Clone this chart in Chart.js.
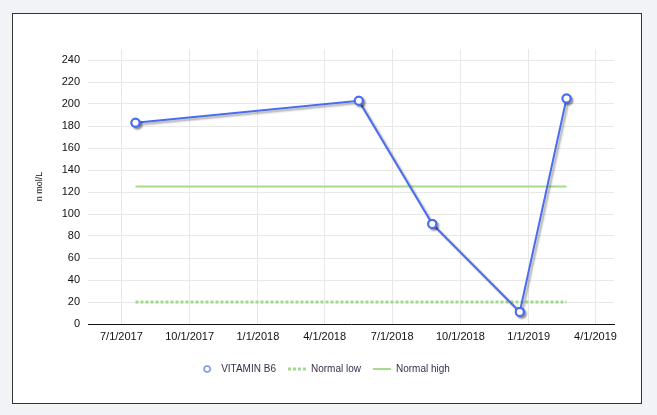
<!DOCTYPE html>
<html><head><meta charset="utf-8">
<script src="https://cdn.jsdelivr.net/npm/chart.js@4.4.1/dist/chart.umd.min.js"></script>
<style>
html,body{margin:0;padding:0;width:657px;height:415px;overflow:hidden;background:#f1f3f6;}
#frame{position:absolute;left:12px;top:13px;width:628px;height:389px;border:1px solid #333;background:#fff;}
#wrap{position:absolute;left:0;top:0;width:657px;height:415px;}
canvas{display:block;}
</style></head><body>
<div id="frame"></div>
<div id="wrap"><canvas id="c" width="657" height="415" style="width:657px;height:415px"></canvas></div>
<script>
// ---- data ----
const sampleDates = ['2017-07-20','2018-05-17','2018-08-24','2018-12-20','2019-02-21'];
const vitaminB6 = [183, 203, 91, 11, 205];
const normalLow = [20, 20, 20, 20, 20];
const normalHigh = [125, 125, 125, 125, 125];
const xTickLabels = ['7/1/2017','10/1/2017','1/1/2018','4/1/2018','7/1/2018','10/1/2018','1/1/2019','4/1/2019'];
const yTickValues = [0,20,40,60,80,100,120,140,160,180,200,220,240];
const seriesNames = ['VITAMIN B6','Normal low','Normal high'];
const yTitle = 'n mol/L';

const DAY = 86400000;
function isoToDay(s){ const p=s.split('-').map(Number); return Date.UTC(p[0],p[1]-1,p[2])/DAY; }
function mdyToDay(s){ const p=s.split('/').map(Number); return Date.UTC(p[2],p[0]-1,p[1])/DAY; }
function dayToMdy(d){ const t=new Date(d*DAY); return (t.getUTCMonth()+1)+'/'+t.getUTCDate()+'/'+t.getUTCFullYear(); }
const xs = sampleDates.map(isoToDay);
const xTickDays = xTickLabels.map(mdyToDay);
const pts = arr => arr.map((v,i)=>({x:xs[i], y:v}));

const blue = '#4a6cf2';
const greenLow = '#a2d98a';
const greenHigh = '#a6dc8e';

// legend marker for the point series
const mk = document.createElement('canvas');
mk.width = 10; mk.height = 10;
(function(){ const g=mk.getContext('2d'); g.beginPath(); g.arc(5,5,3,0,Math.PI*2); g.fillStyle='#fff'; g.fill(); g.lineWidth=1.6; g.strokeStyle='#7d93e6'; g.stroke(); })();

const shadowPlugin = {
  id:'shadow',
  beforeDatasetDraw(chart,args){ if(args.index===0){ const c=chart.ctx; c.save(); c.shadowColor='rgba(0,0,0,0.35)'; c.shadowOffsetX=2; c.shadowOffsetY=2; c.shadowBlur=2; } },
  afterDatasetDraw(chart,args){
    if(args.index===0){
      const c=chart.ctx; c.restore();
      // redraw the markers on top without shadow so their centres stay white
      chart.getDatasetMeta(0).data.forEach(p=>p.draw(c, chart.chartArea));
    }
  }
};

Chart.defaults.font.family = '"Liberation Sans", Arial, sans-serif';

new Chart(document.getElementById('c'), {
  type:'line',
  data:{ datasets:[
    { label:seriesNames[0], data:pts(vitaminB6), borderColor:blue, borderWidth:2, tension:0,
      pointRadius:4, pointHoverRadius:4, pointBackgroundColor:'#fff', pointBorderColor:blue, pointBorderWidth:2 },
    { label:seriesNames[1], data:pts(normalLow), borderColor:greenLow, borderWidth:3, borderDash:[3,2], pointRadius:0, tension:0 },
    { label:seriesNames[2], data:pts(normalHigh), borderColor:greenHigh, borderWidth:2, pointRadius:0, tension:0 }
  ]},
  options:{
    responsive:false, animation:false, devicePixelRatio:1,
    layout:{ padding:{ left:34, right:43, top:49, bottom:31 } },
    plugins:{
      tooltip:{enabled:false},
      legend:{ position:'bottom',
        labels:{ usePointStyle:true, pointStyleWidth:18, boxHeight:6, padding:12,
          font:{size:10}, color:'#3a2f4a',
          generateLabels(chart){
            return chart.data.datasets.map((ds,i)=>({
              text:ds.label, fillStyle:ds.borderColor, strokeStyle:ds.borderColor,
              lineWidth: i===1?3:2, lineDash: ds.borderDash||[], lineCap:'butt',
              pointStyle: i===0?mk:'line', datasetIndex:i, hidden:false, fontColor:'#3a2f4a'
            }));
          } } }
    },
    scales:{
      x:{ type:'linear', min:isoToDay('2017-05-17'), max:isoToDay('2019-04-26'),
        afterBuildTicks(s){ s.ticks = xTickDays.map(v=>({value:v})); },
        afterFit(s){ s.height = 28; },
        ticks:{ callback:v=>dayToMdy(v), font:{size:11}, color:'#111', padding:6, maxRotation:0, autoSkip:false },
        grid:{ color:'#e8e8e8', lineWidth:1, drawTicks:false },
        border:{ display:true, color:'#111', width:1 } },
      y:{ min:0, max:250,
        afterBuildTicks(s){ s.ticks = yTickValues.map(v=>({value:v})); },
        afterFit(s){ s.width = 54; },
        ticks:{ font:{size:11}, color:'#111', padding:8 },
        grid:{ color:'#e8e8e8', lineWidth:1, drawTicks:false },
        border:{ display:false },
        title:{ display:true, text:yTitle, font:{size:9}, color:'#111', padding:{top:0,bottom:0} } }
    }
  },
  plugins:[shadowPlugin]
});
</script>
</body></html>
